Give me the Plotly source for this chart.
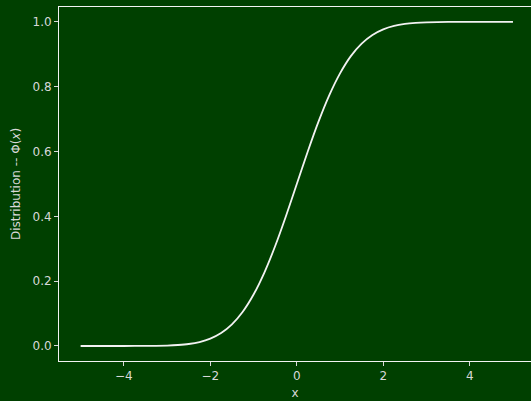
import plotly.graph_objects as go

x_vals = [-5.0, -4.5, -4.0, -3.5, -3.0, -2.75, -2.5, -2.25, -2.0, -1.75, -1.5, -1.25, -1.0,
          -0.75, -0.5, -0.25, 0.0, 0.25, 0.5, 0.75, 1.0, 1.25, 1.5, 1.75, 2.0, 2.25, 2.5,
          2.75, 3.0, 3.5, 4.0, 4.5, 5.0]
phi_vals = [0.0, 0.0, 0.0, 0.0002, 0.0013, 0.003, 0.0062, 0.0122, 0.0228, 0.0401, 0.0668, 0.1056, 0.1587,
            0.2266, 0.3085, 0.4013, 0.5, 0.5987, 0.6915, 0.7734, 0.8413, 0.8944, 0.9332, 0.9599, 0.9772, 0.9878, 0.9938,
            0.997, 0.9987, 0.9998, 1.0, 1.0, 1.0]
x_ticks = [-4, -2, 0, 2, 4]
x_tick_labels = ["\u22124", "\u22122", "0", "2", "4"]
y_ticks = [0.0, 0.2, 0.4, 0.6, 0.8, 1.0]
y_tick_labels = ["0.0", "0.2", "0.4", "0.6", "0.8", "1.0"]

bg = "#004000"
fg = "#f2f2f2"
txt = "#d8d8d8"

fig = go.Figure(go.Scatter(x=x_vals, y=phi_vals, mode="lines",
                           line=dict(color=fg, width=1.8, shape="spline", smoothing=0.6)))

font = dict(family="DejaVu Sans", size=12, color=txt)
fig.update_layout(
    width=531, height=401,
    margin=dict(l=59, r=0, t=7, b=40),
    paper_bgcolor=bg, plot_bgcolor=bg,
    showlegend=False,
    font=font,
    xaxis=dict(range=[-5.5, 5.417], tickvals=x_ticks, ticktext=x_tick_labels,
               showgrid=False, zeroline=False, showline=True, linecolor=fg, linewidth=1,
               mirror=True, ticks="outside", ticklen=4, tickcolor=txt,
               title=dict(text="x", font=font, standoff=6)),
    yaxis=dict(range=[-0.0463, 1.046], tickvals=y_ticks, ticktext=y_tick_labels,
               showgrid=False, zeroline=False, showline=True, linecolor=fg, linewidth=1,
               ticks="outside", ticklen=4, tickcolor=txt,
               title=dict(text="Distribution -- \u03a6(<i>x</i>)", font=font, standoff=9)),
)
fig.write_html("out.html", config={"displayModeBar": False},
               post_script="document.body.style.margin='0';document.body.style.overflow='hidden';"
                           "document.body.style.background='" + bg + "';")
